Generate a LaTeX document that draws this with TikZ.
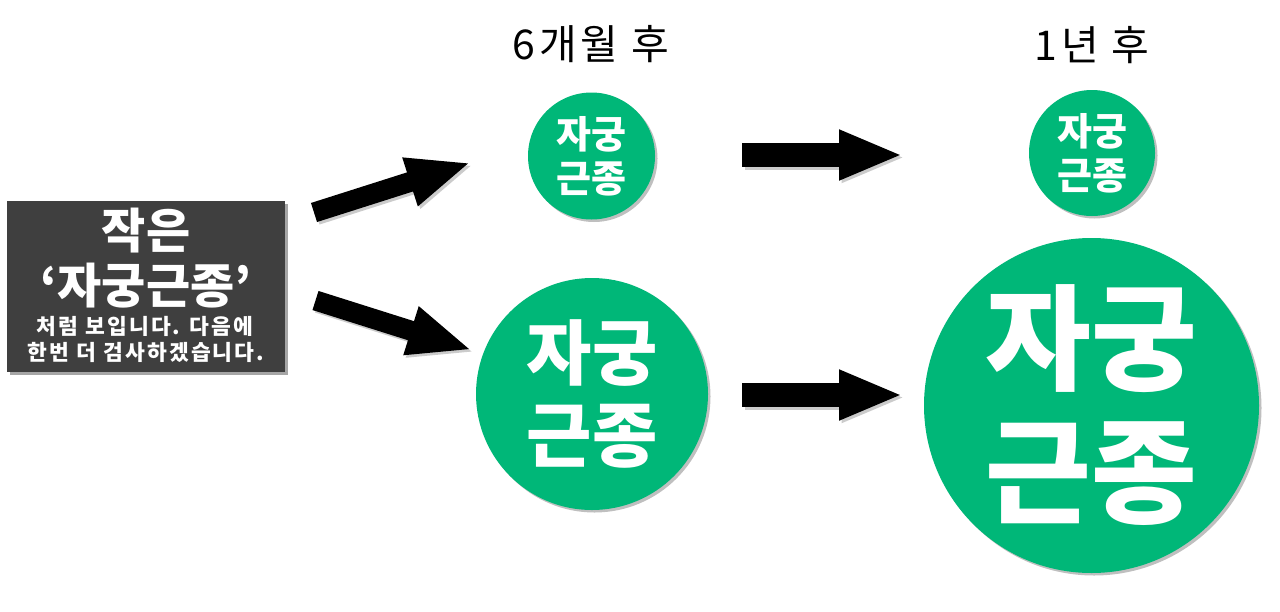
\documentclass[tikz,border=0pt]{standalone}
\usepackage{fontspec}
\setmainfont{Noto Sans CJK KR}
\usetikzlibrary{arrows.meta,shadows}
\definecolor{kgreen}{HTML}{00B778}
\definecolor{kbox}{HTML}{3F3F3F}
\tikzset{
  blockarrow/.style={line width=#1, black, -{Triangle[length=64pt,width=46pt]}},
  arrowshadow/.style={line width=#1, black!45, opacity=0.45, -{Triangle[length=64pt,width=46pt]},
    transform canvas={shift={(2.5pt,-2.5pt)}}},
  greencircle/.style={circle, fill=kgreen, inner sep=0pt, minimum size=#1, text=white,
    align=center, font=\bfseries,
    drop shadow={shadow xshift=2.5pt, shadow yshift=-2.5pt, opacity=0.25, fill=black}},
  heading/.style={text=black, font=\fontsize{41}{48}\selectfont\addfontfeature{LetterSpace=9}, inner sep=0pt},
  boxtext/.style={text=white, inner sep=0pt, align=center},
}
\begin{document}
\begin{tikzpicture}[x=1pt,y=-1pt]
\useasboundingbox (0,0) rectangle (1280,611);
\fill[white] (0,0) rectangle (1280,611);

% left box
\node[rectangle, fill=kbox, minimum width=278pt, minimum height=171pt, inner sep=0pt,
  drop shadow={shadow xshift=3pt, shadow yshift=-3pt, opacity=0.35, fill=black}]
  (box) at (146,286.5) {};
\node[boxtext, font=\bfseries\fontsize{48}{55}\selectfont] (t1) at (146,231) {작은};
\node[boxtext, font=\bfseries\fontsize{48}{55}\selectfont] (t2) at (146,286) {‘자궁근종’};
\node[boxtext, font=\bfseries\fontsize{21.5}{25}\selectfont\addfontfeature{LetterSpace=10}] (t3) at (145,326.5) {처럼 보입니다. 다음에};
\node[boxtext, font=\bfseries\fontsize{21.5}{25}\selectfont\addfontfeature{LetterSpace=10}] (t4) at (146,352) {한번 더 검사하겠습니다.};

% headings
\node[heading] (h1) at (591,44) {6개월 후};
\node[heading] (h2) at (1092,45) {1년 후};

% circles
\node[greencircle=127pt, font=\bfseries\fontsize{38}{44}\selectfont] (c1) at (591.5,156) {자궁\\근종};
\node[greencircle=126pt, font=\bfseries\fontsize{38}{44}\selectfont] (c2) at (1092,153) {자궁\\근종};
\node[greencircle=232pt, font=\bfseries\fontsize{71}{82}\selectfont] (c3) at (592,394) {자궁\\근종};
\node[greencircle=335pt, font=\bfseries\fontsize{115}{133}\selectfont] (c4) at (1091.5,405.5) {자궁\\근종};

% arrow end points
\coordinate (a1s) at (314,212.5);
\coordinate (a1e) at (471,162.5);
\coordinate (a2s) at (315.5,300.5);
\coordinate (a2e) at (472,350);
\coordinate (a3s) at (742,155);
\coordinate (a3e) at (903,155);
\coordinate (a4s) at (742,395);
\coordinate (a4e) at (903,395);

% arrow shadows
\draw[arrowshadow=20pt] (a1s) -- (a1e);
\draw[arrowshadow=20pt] (a2s) -- (a2e);
\draw[arrowshadow=24pt] (a3s) -- (a3e);
\draw[arrowshadow=24pt] (a4s) -- (a4e);
% arrows
\draw[blockarrow=20pt] (a1s) -- (a1e);
\draw[blockarrow=20pt] (a2s) -- (a2e);
\draw[blockarrow=24pt] (a3s) -- (a3e);
\draw[blockarrow=24pt] (a4s) -- (a4e);
\end{tikzpicture}
\end{document}
